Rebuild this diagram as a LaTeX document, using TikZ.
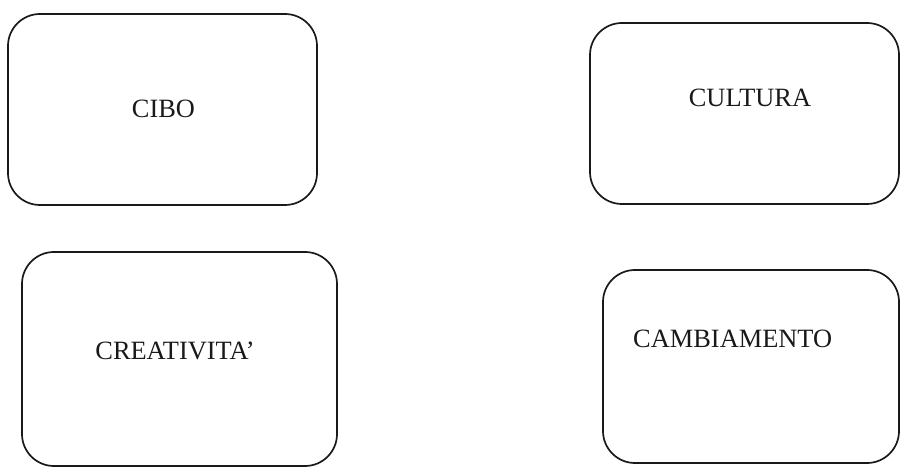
\documentclass[tikz,border=0pt]{standalone}
\usepackage{fontspec}
\setmainfont{Liberation Serif}
\usetikzlibrary{positioning}

\begin{document}
\begin{tikzpicture}[
    x=1bp, y=-1bp,
    box/.style={rectangle, draw=black!90, line width=1.7bp, rounded corners=32bp, inner sep=0pt, outer sep=0pt},
    lbl/.style={inner sep=0pt, font=\fontsize{26.5}{30}\selectfont, text=black!90}
]
\useasboundingbox (0,0) rectangle (901,468);

% Boxes
\node[box, minimum width=309bp, minimum height=191bp] (cibo) at (162.5,109.5) {};
\node[box, minimum width=309bp, minimum height=181bp] (cultura) at (744.5,113.5) {};
\node[box, minimum width=315bp, minimum height=214bp] (creativita) at (179.5,359) {};
\node[box, minimum width=296bp, minimum height=193bp] (cambiamento) at (751,366.5) {};

% Labels
\node[lbl, anchor=base] (tcibo) at (163.5,118) {CIBO};
\node[lbl, anchor=base] (tcultura) at (750,107) {CULTURA};
\node[lbl, anchor=base] (tcreativita) at (175,360) {CREATIVITA'};
\node[lbl, anchor=base west] (tcambiamento) at (633,348) {CAMBIAMENTO};

\end{tikzpicture}
\end{document}
